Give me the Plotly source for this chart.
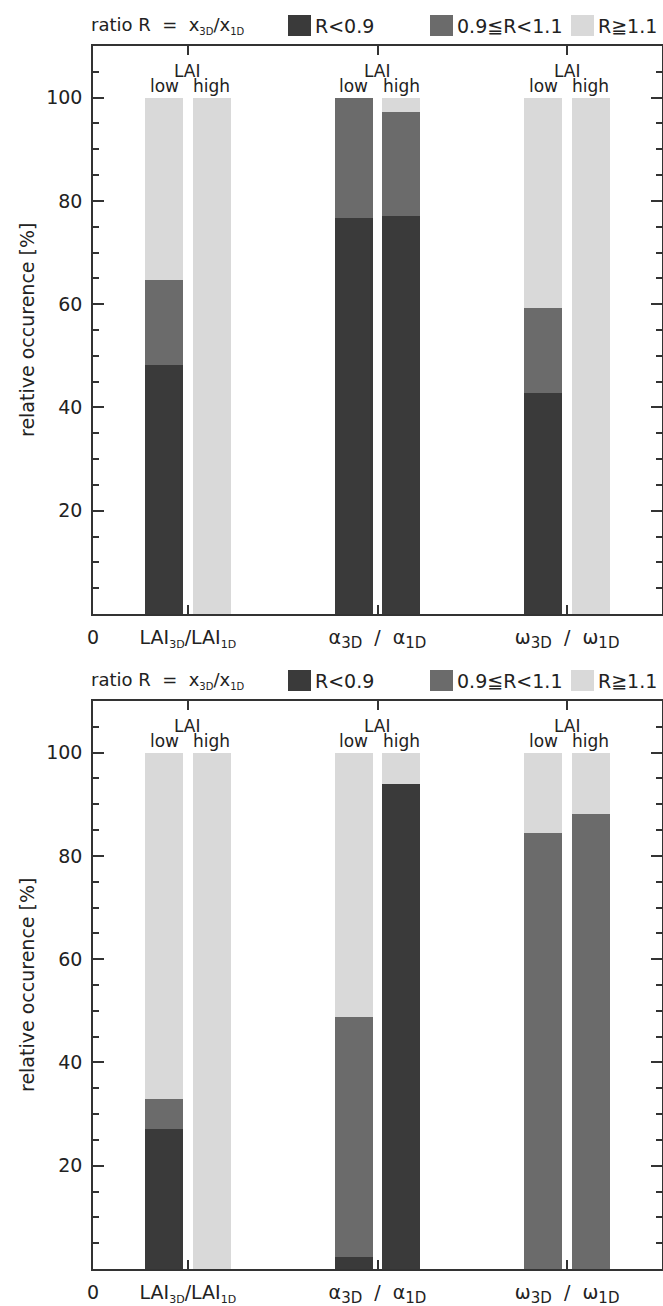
import plotly.graph_objects as go

# ---------------- data ----------------
group_labels = [
    "LAI<sub><span style='font-size:11px'>3D</span></sub>/LAI<sub><span style='font-size:11px'>1D</span></sub>",
    "α<sub><span style='font-size:15px'>3D</span></sub>\u00a0\u00a0/\u00a0\u00a0α<sub><span style='font-size:15px'>1D</span></sub>",
    "ω<sub><span style='font-size:15px'>3D</span></sub>\u00a0\u00a0/\u00a0\u00a0ω<sub><span style='font-size:15px'>1D</span></sub>",
]
group_pos = [0.5, 1.5, 2.5]
class_names = ["R<0.9", "0.9≦R<1.1", "R≧1.1"]
class_colors = ["#3a3a3a", "#6b6b6b", "#d9d9d9"]

# top panel (percent) : [LAI, alpha, omega]
top_low_lt = [48.2, 76.7, 42.8]
top_low_mid = [16.4, 23.3, 16.5]
top_low_ge = [35.4, 0.0, 40.7]
top_high_lt = [0.0, 77.1, 0.0]
top_high_mid = [0.0, 20.1, 0.0]
top_high_ge = [100.0, 2.8, 100.0]

# bottom panel
bot_low_lt = [27.1, 2.3, 0.0]
bot_low_mid = [5.8, 46.5, 84.5]
bot_low_ge = [67.1, 51.2, 15.5]
bot_high_lt = [0.0, 94.0, 0.0]
bot_high_mid = [0.0, 0.0, 88.2]
bot_high_ge = [100.0, 6.0, 11.8]

W, H = 663, 1306
FONT = "DejaVu Sans"
TXT = "#222222"
off = 0.125
bw = 0.2

fig = go.Figure()

panels = [
    ("x", "y", [top_low_lt, top_low_mid, top_low_ge], [top_high_lt, top_high_mid, top_high_ge]),
    ("x2", "y2", [bot_low_lt, bot_low_mid, bot_low_ge], [bot_high_lt, bot_high_mid, bot_high_ge]),
]
for xa, ya, low, high in panels:
    for series, sgn in ((low, -1), (high, 1)):
        for k in range(3):
            fig.add_trace(go.Bar(
                x=[p + sgn * off for p in group_pos], y=series[k], width=bw,
                marker=dict(color=class_colors[k], line=dict(width=0)),
                xaxis=xa, yaxis=ya, showlegend=False, name=class_names[k]))

xdom = [93 / W, 662 / W]
top_dom = [1 - 614 / H, 1 - 46 / H]
bot_dom = [1 - 1269 / H, 1 - 701 / H]

axis_common = dict(showline=True, linecolor="#333333", linewidth=1.5, mirror="ticks",
                   ticks="inside", tickcolor="#333333", showgrid=False, zeroline=False,
                   automargin=False, tickfont=dict(family=FONT, size=19, color=TXT))
xaxis_cfg = dict(axis_common, range=[0, 3], tickmode="array", tickvals=[0] + group_pos,
                 ticktext=["0"] + group_labels, ticklen=9, tickwidth=1.5, ticklabelstandoff=5,
                 domain=xdom)
yaxis_cfg = dict(axis_common, range=[0, 110], tickmode="array", tickvals=[20, 40, 60, 80, 100],
                 ticklen=11, tickwidth=1.5, ticklabelstandoff=5,
                 minor=dict(tickvals=list(range(5, 110, 5)), ticklen=6, tickwidth=1.5,
                            ticks="inside", tickcolor="#333333"))

fig.update_layout(
    width=W, height=H, margin=dict(l=0, r=0, t=0, b=0),
    template="none", plot_bgcolor="white", paper_bgcolor="white",
    barmode="stack", showlegend=False,
    xaxis=dict(xaxis_cfg, anchor="y"),
    yaxis=dict(yaxis_cfg, domain=top_dom, anchor="x"),
    xaxis2=dict(xaxis_cfg, anchor="y2"),
    yaxis2=dict(yaxis_cfg, domain=bot_dom, anchor="x2"),
)

annotations = []
shapes = []
for i, (xr, yr, dom, leg_y) in enumerate((("x", "y", top_dom, 25.5), ("x2", "y2", bot_dom, 680.5))):
    # LAI / low / high labels
    for p in group_pos:
        annotations.append(dict(x=p, y=105.2, xref=xr, yref=yr, text="LAI", showarrow=False,
                                xanchor="center", yanchor="middle",
                                font=dict(family=FONT, size=17, color=TXT)))
        annotations.append(dict(x=p - off, y=102.3, xref=xr, yref=yr, text="low", showarrow=False,
                                xanchor="center", yanchor="middle",
                                font=dict(family=FONT, size=17, color=TXT)))
        annotations.append(dict(x=p + off, y=102.3, xref=xr, yref=yr, text="high", showarrow=False,
                                xanchor="center", yanchor="middle",
                                font=dict(family=FONT, size=17, color=TXT)))
    # y title
    annotations.append(dict(x=27 / W, y=(dom[0] + dom[1]) / 2, xref="paper", yref="paper",
                            xanchor="center", yanchor="middle",
                            text="relative occurence [%]", textangle=-90, showarrow=False,
                            font=dict(family=FONT, size=19, color=TXT)))
    # legend row
    yc = 1 - leg_y / H
    annotations.append(dict(x=89 / W, y=yc, xref="paper", yref="paper", xanchor="left", yanchor="middle",
                            text="ratio R\u00a0 =\u00a0 x<sub><span style='font-size:10px'>3D</span></sub>/x<sub><span style='font-size:10px'>1D</span></sub>",
                            showarrow=False, font=dict(family=FONT, size=18, color=TXT)))
    sq_x = [288, 430, 571]
    for k in range(3):
        shapes.append(dict(type="rect", xref="paper", yref="paper",
                           x0=sq_x[k] / W, x1=(sq_x[k] + 23) / W,
                           y0=1 - (leg_y + 10.5) / H, y1=1 - (leg_y - 10.5) / H,
                           fillcolor=class_colors[k], line=dict(width=0)))
        annotations.append(dict(x=(sq_x[k] + 25) / W, y=yc, xref="paper", yref="paper",
                                xanchor="left", yanchor="middle", text=class_names[k], showarrow=False,
                                font=dict(family=FONT, size=19, color=TXT)))

fig.update_layout(annotations=annotations, shapes=shapes)
fig.write_html("out.html")
